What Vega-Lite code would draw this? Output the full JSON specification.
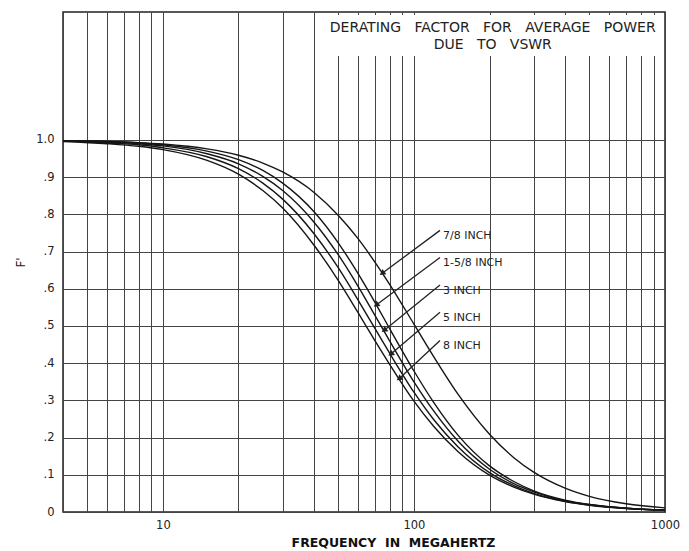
{
  "$schema": "https://vega.github.io/schema/vega-lite/v6.json",
  "width": 602,
  "height": 500,
  "autosize": {"type": "none"},
  "padding": {"left": 63, "top": 12, "right": 24, "bottom": 39},
  "background": "white",
  "config": {"view": {"stroke": "#222", "strokeWidth": 1.5}, "font": "DejaVu Sans"},
  "datasets": {
    "curves": [
      {"s":"7/8","f":4,"F":0.998},{"s":"7/8","f":6,"F":0.996},{"s":"7/8","f":8,"F":0.993},{"s":"7/8","f":10,"F":0.989},{"s":"7/8","f":15,"F":0.976},{"s":"7/8","f":20,"F":0.959},{"s":"7/8","f":25,"F":0.938},{"s":"7/8","f":30,"F":0.914},{"s":"7/8","f":40,"F":0.859},{"s":"7/8","f":50,"F":0.797},{"s":"7/8","f":60,"F":0.734},{"s":"7/8","f":70,"F":0.671},{"s":"7/8","f":80,"F":0.612},{"s":"7/8","f":100,"F":0.505},{"s":"7/8","f":120,"F":0.417},{"s":"7/8","f":150,"F":0.316},{"s":"7/8","f":200,"F":0.209},{"s":"7/8","f":250,"F":0.146},{"s":"7/8","f":300,"F":0.107},{"s":"7/8","f":400,"F":0.064},{"s":"7/8","f":500,"F":0.042},{"s":"7/8","f":700,"F":0.022},{"s":"7/8","f":1000,"F":0.011},
      {"s":"1-5/8","f":4,"F":0.998},{"s":"1-5/8","f":6,"F":0.996},{"s":"1-5/8","f":8,"F":0.992},{"s":"1-5/8","f":10,"F":0.987},{"s":"1-5/8","f":15,"F":0.970},{"s":"1-5/8","f":20,"F":0.947},{"s":"1-5/8","f":25,"F":0.918},{"s":"1-5/8","f":30,"F":0.884},{"s":"1-5/8","f":40,"F":0.807},{"s":"1-5/8","f":50,"F":0.723},{"s":"1-5/8","f":60,"F":0.640},{"s":"1-5/8","f":70,"F":0.563},{"s":"1-5/8","f":80,"F":0.493},{"s":"1-5/8","f":100,"F":0.379},{"s":"1-5/8","f":120,"F":0.294},{"s":"1-5/8","f":150,"F":0.206},{"s":"1-5/8","f":200,"F":0.124},{"s":"1-5/8","f":250,"F":0.082},{"s":"1-5/8","f":300,"F":0.057},{"s":"1-5/8","f":400,"F":0.032},{"s":"1-5/8","f":500,"F":0.020},{"s":"1-5/8","f":700,"F":0.010},{"s":"1-5/8","f":1000,"F":0.005},
      {"s":"3","f":4,"F":0.997},{"s":"3","f":6,"F":0.994},{"s":"3","f":8,"F":0.990},{"s":"3","f":10,"F":0.984},{"s":"3","f":15,"F":0.963},{"s":"3","f":20,"F":0.936},{"s":"3","f":25,"F":0.902},{"s":"3","f":30,"F":0.864},{"s":"3","f":40,"F":0.779},{"s":"3","f":50,"F":0.691},{"s":"3","f":60,"F":0.606},{"s":"3","f":70,"F":0.528},{"s":"3","f":80,"F":0.460},{"s":"3","f":100,"F":0.350},{"s":"3","f":120,"F":0.271},{"s":"3","f":150,"F":0.190},{"s":"3","f":200,"F":0.115},{"s":"3","f":250,"F":0.076},{"s":"3","f":300,"F":0.054},{"s":"3","f":400,"F":0.030},{"s":"3","f":500,"F":0.020},{"s":"3","f":700,"F":0.010},{"s":"3","f":1000,"F":0.005},
      {"s":"5","f":4,"F":0.997},{"s":"5","f":6,"F":0.992},{"s":"5","f":8,"F":0.987},{"s":"5","f":10,"F":0.979},{"s":"5","f":15,"F":0.955},{"s":"5","f":20,"F":0.923},{"s":"5","f":25,"F":0.884},{"s":"5","f":30,"F":0.841},{"s":"5","f":40,"F":0.748},{"s":"5","f":50,"F":0.656},{"s":"5","f":60,"F":0.569},{"s":"5","f":70,"F":0.493},{"s":"5","f":80,"F":0.427},{"s":"5","f":100,"F":0.322},{"s":"5","f":120,"F":0.248},{"s":"5","f":150,"F":0.175},{"s":"5","f":200,"F":0.106},{"s":"5","f":250,"F":0.071},{"s":"5","f":300,"F":0.050},{"s":"5","f":400,"F":0.029},{"s":"5","f":500,"F":0.019},{"s":"5","f":700,"F":0.010},{"s":"5","f":1000,"F":0.005},
      {"s":"8","f":4,"F":0.996},{"s":"8","f":6,"F":0.990},{"s":"8","f":8,"F":0.983},{"s":"8","f":10,"F":0.974},{"s":"8","f":15,"F":0.945},{"s":"8","f":20,"F":0.908},{"s":"8","f":25,"F":0.864},{"s":"8","f":30,"F":0.817},{"s":"8","f":40,"F":0.717},{"s":"8","f":50,"F":0.622},{"s":"8","f":60,"F":0.535},{"s":"8","f":70,"F":0.460},{"s":"8","f":80,"F":0.397},{"s":"8","f":100,"F":0.298},{"s":"8","f":120,"F":0.230},{"s":"8","f":150,"F":0.162},{"s":"8","f":200,"F":0.099},{"s":"8","f":250,"F":0.067},{"s":"8","f":300,"F":0.048},{"s":"8","f":400,"F":0.028},{"s":"8","f":500,"F":0.018},{"s":"8","f":700,"F":0.009},{"s":"8","f":1000,"F":0.005}
    ],
    "labels": [
      {"t":"7/8 INCH","lf":130.5,"lv":0.742,"sf":127,"sv":0.757,"tf":75.2,"tv":0.643},
      {"t":"1-5/8 INCH","lf":130.5,"lv":0.669,"sf":127,"sv":0.684,"tf":71.2,"tv":0.558},
      {"t":"3 INCH","lf":130.5,"lv":0.595,"sf":127,"sv":0.61,"tf":76.6,"tv":0.49},
      {"t":"5 INCH","lf":130.5,"lv":0.522,"sf":127,"sv":0.537,"tf":81.4,"tv":0.426},
      {"t":"8 INCH","lf":130.5,"lv":0.446,"sf":127,"sv":0.461,"tf":87.9,"tv":0.36}
    ],
    "box": [{"f1":43,"f2":985,"v1":1.226,"v2":1.336}],
    "heading": [
      {"t":"DERATING\u00a0\u00a0\u00a0FACTOR\u00a0\u00a0\u00a0FOR\u00a0\u00a0\u00a0AVERAGE\u00a0\u00a0\u00a0POWER","f":206,"v":1.301},
      {"t":"DUE\u00a0\u00a0\u00a0TO\u00a0\u00a0\u00a0VSWR","f":206,"v":1.255}
    ]
  },
  "layer": [
    {
      "data": {"name": "curves"},
      "mark": {"type": "line", "interpolate": "monotone", "color": "#151515", "strokeWidth": 1.4},
      "encoding": {
        "x": {
          "field": "f", "type": "quantitative",
          "scale": {"type": "log", "domain": [4, 1000], "nice": false},
          "axis": {
            "values": [4,5,6,7,8,9,10,20,30,40,50,60,70,80,90,100,200,300,400,500,600,700,800,900,1000],
            "labelExpr": "datum.value == 10 || datum.value == 100 || datum.value == 1000 ? '' + datum.value : ''",
            "ticks": false, "domain": false, "grid": true,
            "gridColor": "#444", "gridWidth": 1, "gridOpacity": 1,
            "labelFontSize": 11.5, "labelColor": "#222", "labelPadding": 7,
            "labelOverlap": false, "labelBound": false, "labelFlush": false,
            "title": "FREQUENCY\u00a0\u00a0IN\u00a0\u00a0MEGAHERTZ",
            "titleFontSize": 12.5, "titleFontWeight": "bold", "titleColor": "#111",
            "titlePadding": 6, "titleX": 330, "titleAnchor": "middle", "zindex": 0
          }
        },
        "y": {
          "field": "F", "type": "quantitative",
          "scale": {"domain": [0, 1.344], "nice": false},
          "axis": {
            "values": [0,0.1,0.2,0.3,0.4,0.5,0.6,0.7,0.8,0.9,1.0],
            "labelExpr": "datum.value == 0 ? '0' : datum.value >= 1 ? '1.0' : substring(format(datum.value, '.1f'), 1)",
            "ticks": false, "domain": false, "grid": true,
            "gridColor": "#444", "gridWidth": 1, "gridOpacity": 1,
            "labelFontSize": 11.5, "labelColor": "#222", "labelPadding": 9,
            "labelOverlap": false, "labelBound": false, "labelFlush": false,
            "title": "F'", "titleFontSize": 12, "titleFontWeight": "normal", "titleColor": "#222",
            "titlePadding": 8, "zindex": 0
          }
        },
        "detail": {"field": "s"}
      }
    },
    {
      "data": {"name": "box"},
      "mark": {"type": "rect", "fill": "white"},
      "encoding": {
        "x": {"field": "f1", "type": "quantitative"},
        "x2": {"field": "f2"},
        "y": {"field": "v1", "type": "quantitative"},
        "y2": {"field": "v2"}
      }
    },
    {
      "data": {"name": "heading"},
      "mark": {"type": "text", "fontSize": 14, "color": "#222", "align": "center", "baseline": "middle"},
      "encoding": {
        "x": {"field": "f", "type": "quantitative"},
        "y": {"field": "v", "type": "quantitative"},
        "text": {"field": "t"}
      }
    },
    {
      "data": {"name": "labels"},
      "mark": {"type": "rule", "color": "#222", "strokeWidth": 1.3},
      "encoding": {
        "x": {"field": "sf", "type": "quantitative"},
        "y": {"field": "sv", "type": "quantitative"},
        "x2": {"field": "tf"},
        "y2": {"field": "tv"}
      }
    },
    {
      "data": {"name": "labels"},
      "mark": {"type": "point", "shape": "triangle", "filled": true, "color": "#222", "size": 45, "angle": 234, "opacity": 1},
      "encoding": {
        "x": {"field": "tf", "type": "quantitative"},
        "y": {"field": "tv", "type": "quantitative"}
      }
    },
    {
      "data": {"name": "labels"},
      "mark": {"type": "text", "fontSize": 11, "color": "#222", "align": "left", "baseline": "middle"},
      "encoding": {
        "x": {"field": "lf", "type": "quantitative"},
        "y": {"field": "lv", "type": "quantitative"},
        "text": {"field": "t"}
      }
    }
  ]
}
